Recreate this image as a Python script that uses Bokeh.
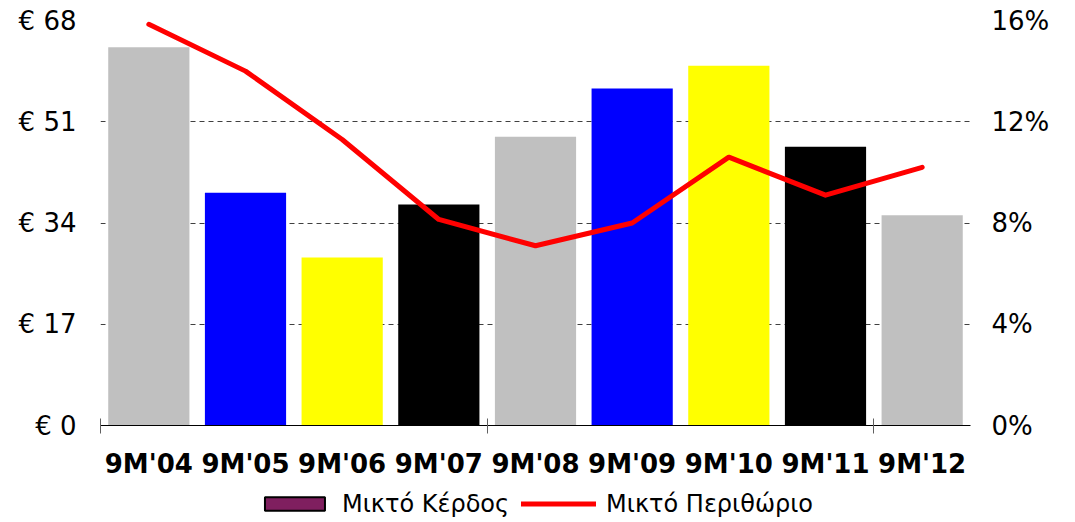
from bokeh.plotting import figure
from bokeh.layouts import column
from bokeh.models import (Range1d, LinearAxis, FixedTicker, Legend, LegendItem,
                          ColumnDataSource)
from bokeh.embed import file_html
from bokeh.resources import INLINE

categories = ["9M'04", "9M'05", "9M'06", "9M'07", "9M'08", "9M'09", "9M'10", "9M'11", "9M'12"]
gross_profit = [63.5, 39.1, 28.2, 37.1, 48.5, 56.6, 60.4, 46.8, 35.3]
gross_margin = [15.85, 14.0, 11.3, 8.14, 7.1, 8.0, 10.6, 9.1, 10.2]
bar_colors = ["#C0C0C0", "#0000FF", "#FFFF00", "#000000", "#C0C0C0", "#0000FF", "#FFFF00", "#000000", "#C0C0C0"]
left_ticks = [0, 17, 34, 51, 68]
left_labels = ["€ 0", "€ 17", "€ 34", "€ 51", "€ 68"]
right_ticks = [0, 4, 8, 12, 16]
right_labels = ["0%", "4%", "8%", "12%", "16%"]
series_names = ["Μικτό Κέρδος", "Μικτό Περιθώριο"]

FONT = "DejaVu Sans"
xs = [i + 0.5 for i in range(len(categories))]

src = ColumnDataSource(dict(x=xs, top=gross_profit, color=bar_colors, m=gross_margin))

p1 = figure(width=1075, height=485, output_backend="svg", toolbar_location=None,
            x_range=Range1d(0, len(categories)), y_range=Range1d(0, 68),
            min_border_left=100, min_border_right=105, min_border_top=20, min_border_bottom=60)
p1.extra_y_ranges = {"pct": Range1d(0, 16)}
p1.outline_line_color = None
p1.background_fill_color = "white"
p1.border_fill_color = "white"

p1.vbar(x="x", top="top", width=0.84, fill_color="color", line_color=None, source=src)
p1.line(x="x", y="m", y_range_name="pct", line_color="#FF0000", line_width=5,
        line_cap="round", line_join="round", source=src)

# x axis
xa = p1.xaxis[0]
xa.ticker = FixedTicker(ticks=xs, minor_ticks=[0, 4, 8])
xa.major_label_overrides = {x: c for x, c in zip(xs, categories)}
xa.major_tick_out = 0
xa.major_tick_in = 0
xa.minor_tick_in = 7
xa.minor_tick_out = 8
xa.minor_tick_line_color = "#606060"
xa.axis_line_color = "black"
xa.major_label_text_font = FONT
xa.major_label_text_font_style = "bold"
xa.major_label_text_font_size = "26px"
xa.major_label_text_color = "black"
xa.major_label_standoff = 15

# left axis
ya = p1.yaxis[0]
ya.ticker = FixedTicker(ticks=left_ticks, minor_ticks=[])
ya.major_label_overrides = {t: l for t, l in zip(left_ticks, left_labels)}
ya.axis_line_color = None
ya.major_tick_line_color = None
ya.minor_tick_line_color = None
ya.major_label_text_font = FONT
ya.major_label_text_font_size = "26px"
ya.major_label_text_color = "black"
ya.major_label_standoff = 18

# right axis
ra = LinearAxis(y_range_name="pct")
ra.ticker = FixedTicker(ticks=right_ticks, minor_ticks=[])
ra.major_label_overrides = {t: l for t, l in zip(right_ticks, right_labels)}
ra.axis_line_color = None
ra.major_tick_line_color = None
ra.minor_tick_line_color = None
ra.major_label_text_font = FONT
ra.major_label_text_font_size = "26px"
ra.major_label_text_color = "black"
ra.major_label_standoff = 15
p1.add_layout(ra, "right")

p1.xgrid.grid_line_color = None
p1.ygrid.ticker = FixedTicker(ticks=[17, 34, 51, 68])
p1.ygrid.grid_line_color = "#404040"
p1.ygrid.grid_line_dash = "5 4"
p1.ygrid.grid_line_width = 1

# legend strip
p2 = figure(width=1075, height=37, output_backend="svg", toolbar_location=None,
            x_range=Range1d(0, 1), y_range=Range1d(0, 1),
            x_axis_location=None, y_axis_location=None, min_border=0)
p2.outline_line_color = None
p2.grid.grid_line_color = None
sw_bar = p2.vbar(x=[float("nan")], top=[float("nan")], width=0.1, fill_color="#7F1F5F",
                 line_color="black", line_width=2)
sw_line = p2.line(x=[float("nan")], y=[float("nan")], line_color="#FF0000", line_width=5,
                  line_cap="round")
legend = Legend(items=[LegendItem(label=series_names[0], renderers=[sw_bar]),
                       LegendItem(label=series_names[1], renderers=[sw_line])],
                orientation="horizontal", location="center")
legend.label_text_font = FONT
legend.label_text_font_size = "24px"
legend.label_text_color = "black"
legend.glyph_width = 75
legend.glyph_height = 17
legend.label_standoff = 10
legend.spacing = 12
legend.padding = 0
legend.margin = 0
legend.border_line_color = None
legend.background_fill_alpha = 0
p2.add_layout(legend, "center")

layout = column(p1, p2, spacing=0)
open("out.html", "w").write(file_html(layout, INLINE))
